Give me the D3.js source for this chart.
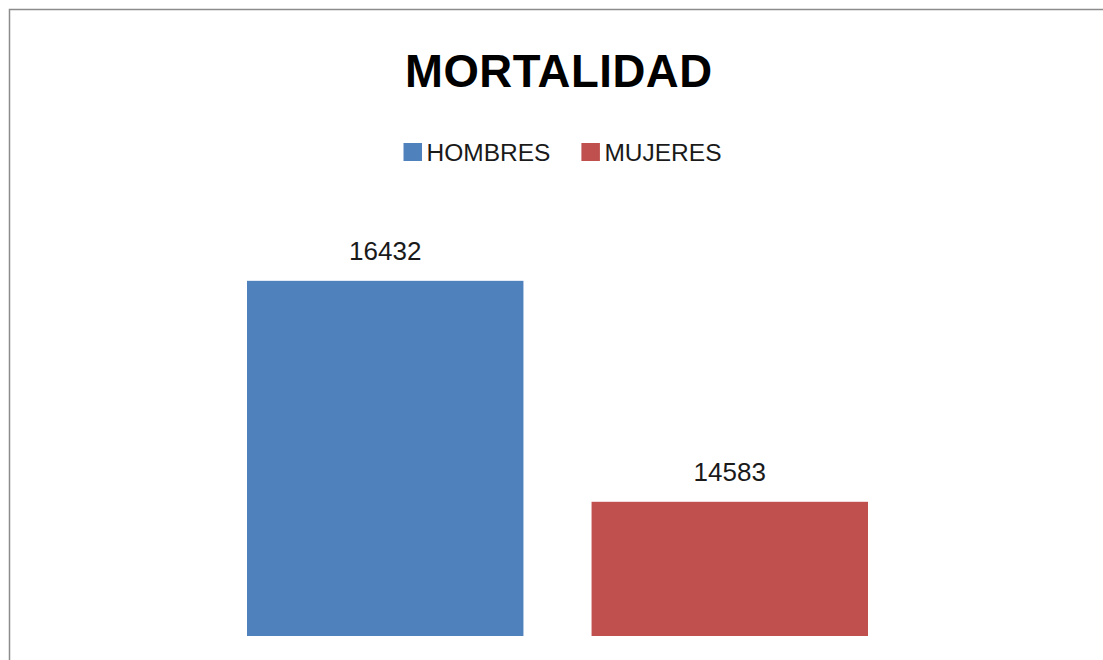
<!DOCTYPE html>
<html>
<head>
<meta charset="utf-8">
<script src="https://cdn.jsdelivr.net/npm/d3@7"></script>
<style>
  html, body { margin: 0; padding: 0; background: #fff; }
  svg { display: block; }
  text { font-family: "Liberation Sans", Arial, sans-serif; }
</style>
</head>
<body>
<svg id="chart" width="1103" height="660"></svg>
<script>
const title = "MORTALIDAD";
const series = ["HOMBRES", "MUJERES"];
const values = [16432, 14583];
const colors = ["#4F81BD", "#C0504D"];

const svg = d3.select("#chart");
const W = 1103, H = 660;

// chart border (cropped at right and bottom)
svg.append("rect")
  .attr("x", 9.5).attr("y", 9.5)
  .attr("width", W + 20).attr("height", H + 20)
  .attr("fill", "#fff")
  .attr("stroke", "#8c8c8c").attr("stroke-width", 1.5);

// title
svg.append("text")
  .attr("x", 558.5).attr("y", 87)
  .attr("text-anchor", "middle")
  .attr("font-size", 45.5).attr("font-weight", "bold")
  .attr("fill", "#000")
  .attr("textLength", 307).attr("lengthAdjust", "spacing")
  .text(title);

// scales
const x = d3.scaleBand().domain(series).range([247, 868]).paddingInner(0.1977).paddingOuter(0);
const y = d3.scaleLinear().domain([13460, 16500]).range([636, 272.7]);

// bars
svg.selectAll("rect.bar").data(series).join("rect")
  .attr("class", "bar")
  .attr("x", d => x(d))
  .attr("width", x.bandwidth())
  .attr("y", (d, i) => y(values[i]))
  .attr("height", (d, i) => y(13460) - y(values[i]))
  .attr("fill", (d, i) => colors[i]);

// data labels
svg.selectAll("text.lbl").data(series).join("text")
  .attr("class", "lbl")
  .attr("x", d => x(d) + x.bandwidth() / 2)
  .attr("y", (d, i) => y(values[i]) - 21)
  .attr("text-anchor", "middle")
  .attr("font-size", 26)
  .attr("fill", "#1a1a1a")
  .text((d, i) => values[i]);

// legend
const leg = svg.append("g");
let cx = 0;
series.forEach((s, i) => {
  const g = leg.append("g").attr("transform", `translate(${cx},0)`);
  g.append("rect").attr("x", 0).attr("y", 143).attr("width", 18.5).attr("height", 18)
    .attr("fill", colors[i]);
  const t = g.append("text").attr("x", 23).attr("y", 161)
    .attr("font-size", 24.5).attr("fill", "#1a1a1a").text(s);
  cx += 23 + t.node().getComputedTextLength() + 31;
});
const legW = cx - 31;
leg.attr("transform", `translate(${562.5 - legW / 2},0)`);
</script>
</body>
</html>
